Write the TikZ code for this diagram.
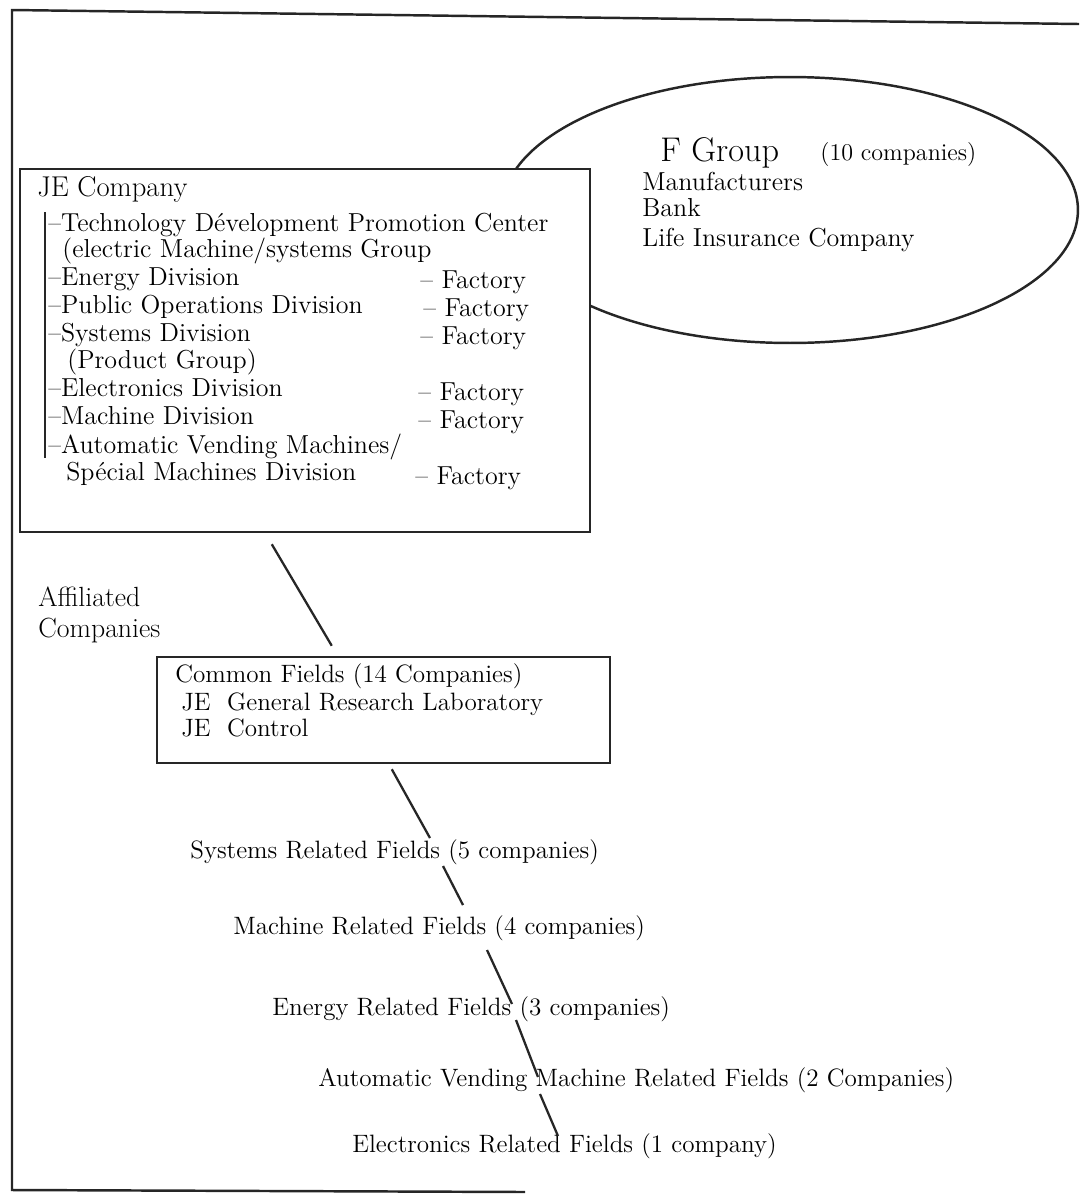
\documentclass[tikz,border=0pt]{standalone}
\usepackage{fontspec}
\usetikzlibrary{calc}
\usetikzlibrary{fit}
\usetikzlibrary{shapes.geometric}
\tikzset{txt/.style={anchor=base west,inner sep=0pt,font=\fontsize{14.3}{16}\selectfont}}
\tikzset{btxt/.style={txt,font=\fontsize{14.8}{16}\selectfont}}
\tikzset{frm/.style={draw=black!85,line width=1.4pt}}
\tikzset{lnk/.style={draw=black!85,line width=1.3pt}}

\begin{document}
\begin{tikzpicture}[x=0.02cm,y=-0.02cm]
      \useasboundingbox (0,0) rectangle (1079,1204);
      % outer frame
      \draw[frm] (1079,24) -- (12,10) -- (12,1190) -- (525,1192);

      % F group
      \node[ellipse,frm,minimum width=11.52cm,minimum height=5.32cm] at (790,210) (fg) {};
      \node[txt,font=\fontsize{19.5}{21}\selectfont] at (660,161) (fgt) {F Group};
      \node[txt,font=\fontsize{13.7}{15}\selectfont] at (820,160) (fgn) {(10 companies)};
      \node[btxt] at (642,190) (manu) {Manufacturers};
      \node[btxt] at (642,216) (bank) {Bank};
      \node[btxt] at (642,246) (life) {Life Insurance Company};

      % JE company
      \node[frm,fill=white,inner sep=0pt,fit={(20,169) (590,532)}] (je) {};
      \node[txt,font=\fontsize{16.3}{18}\selectfont] at (37,196) (jet) {JE Company};
      \draw[lnk,line width=0.9pt] (45,212) -- (45,458);
      \node[btxt] at (48,231) (tdpc) {--Technology Dévelopment Promotion Center};
      \node[btxt] at (62,257) (emsg) {(electric Machine/systems Group};
      \node[btxt] at (48,285) (ediv) {--Energy Division};
      \node[btxt] at (48,313) (pdiv) {--Public Operations Division};
      \node[btxt] at (48,341) (sdiv) {--Systems Division};
      \node[btxt] at (67,368) (pgrp) {(Product Group)};
      \node[btxt] at (48,396) (eldiv) {--Electronics Division};
      \node[btxt] at (48,424) (mdiv) {--Machine Division};
      \node[btxt] at (48,453) (avm) {--Automatic Vending Machines/};
      \node[btxt] at (66,480) (spm) {Spécial Machines Division};
      \node[btxt] at (420,288) (f1) {-- Factory};
      \node[btxt] at (423,316) (f2) {-- Factory};
      \node[btxt] at (420,344) (f3) {-- Factory};
      \node[btxt] at (418,400) (f4) {-- Factory};
      \node[btxt] at (418,428) (f5) {-- Factory};
      \node[btxt] at (415,484) (f6) {-- Factory};

      \node[txt,font=\fontsize{15.8}{17.5}\selectfont,align=left] at (38,637) (aff) {Affiliated\\Companies};

      % common fields
      \node[frm,inner sep=0pt,fit={(157,657) (610,763)}] (cf) {};
      \node[txt] at (175,682) (cft) {Common Fields (14 Companies)};
      \node[txt] at (181,710) (grl) {JE\ \ General Research Laboratory};
      \node[txt] at (181,736) (ctl) {JE\ \ Control};

      % related fields
      \node[txt] at (190,858) (sys) {Systems Related Fields (5 companies)};
      \node[txt] at (233,934) (mach) {Machine Related Fields (4 companies)};
      \node[txt] at (272,1015) (ener) {Energy Related Fields (3 companies)};
      \node[txt] at (318,1086) (avmf) {Automatic Vending Machine Related Fields (2 Companies)};
      \node[txt] at (352,1152) (elec) {Electronics Related Fields (1 company)};

      \draw[lnk] ($(je.south west)+(253,11)$) -- ($(cf.north west)+(176,-10)$);
      \draw[lnk] ($(cf.south west)+(236,5)$) -- ($(sys.base west)+(240,-20)$);
      \draw[lnk] ($(sys.base west)+(253,8)$) -- ($(mach.base west)+(230,-29)$);
      \draw[lnk] ($(mach.base west)+(254,16)$) -- ($(ener.base west)+(240,-11)$);
      \draw[lnk] ($(ener.base west)+(244,5)$) -- ($(avmf.base west)+(220,-9)$);
      \draw[lnk] ($(avmf.base west)+(222,8)$) -- ($(elec.base west)+(206,-16)$);
\end{tikzpicture}
\end{document}
